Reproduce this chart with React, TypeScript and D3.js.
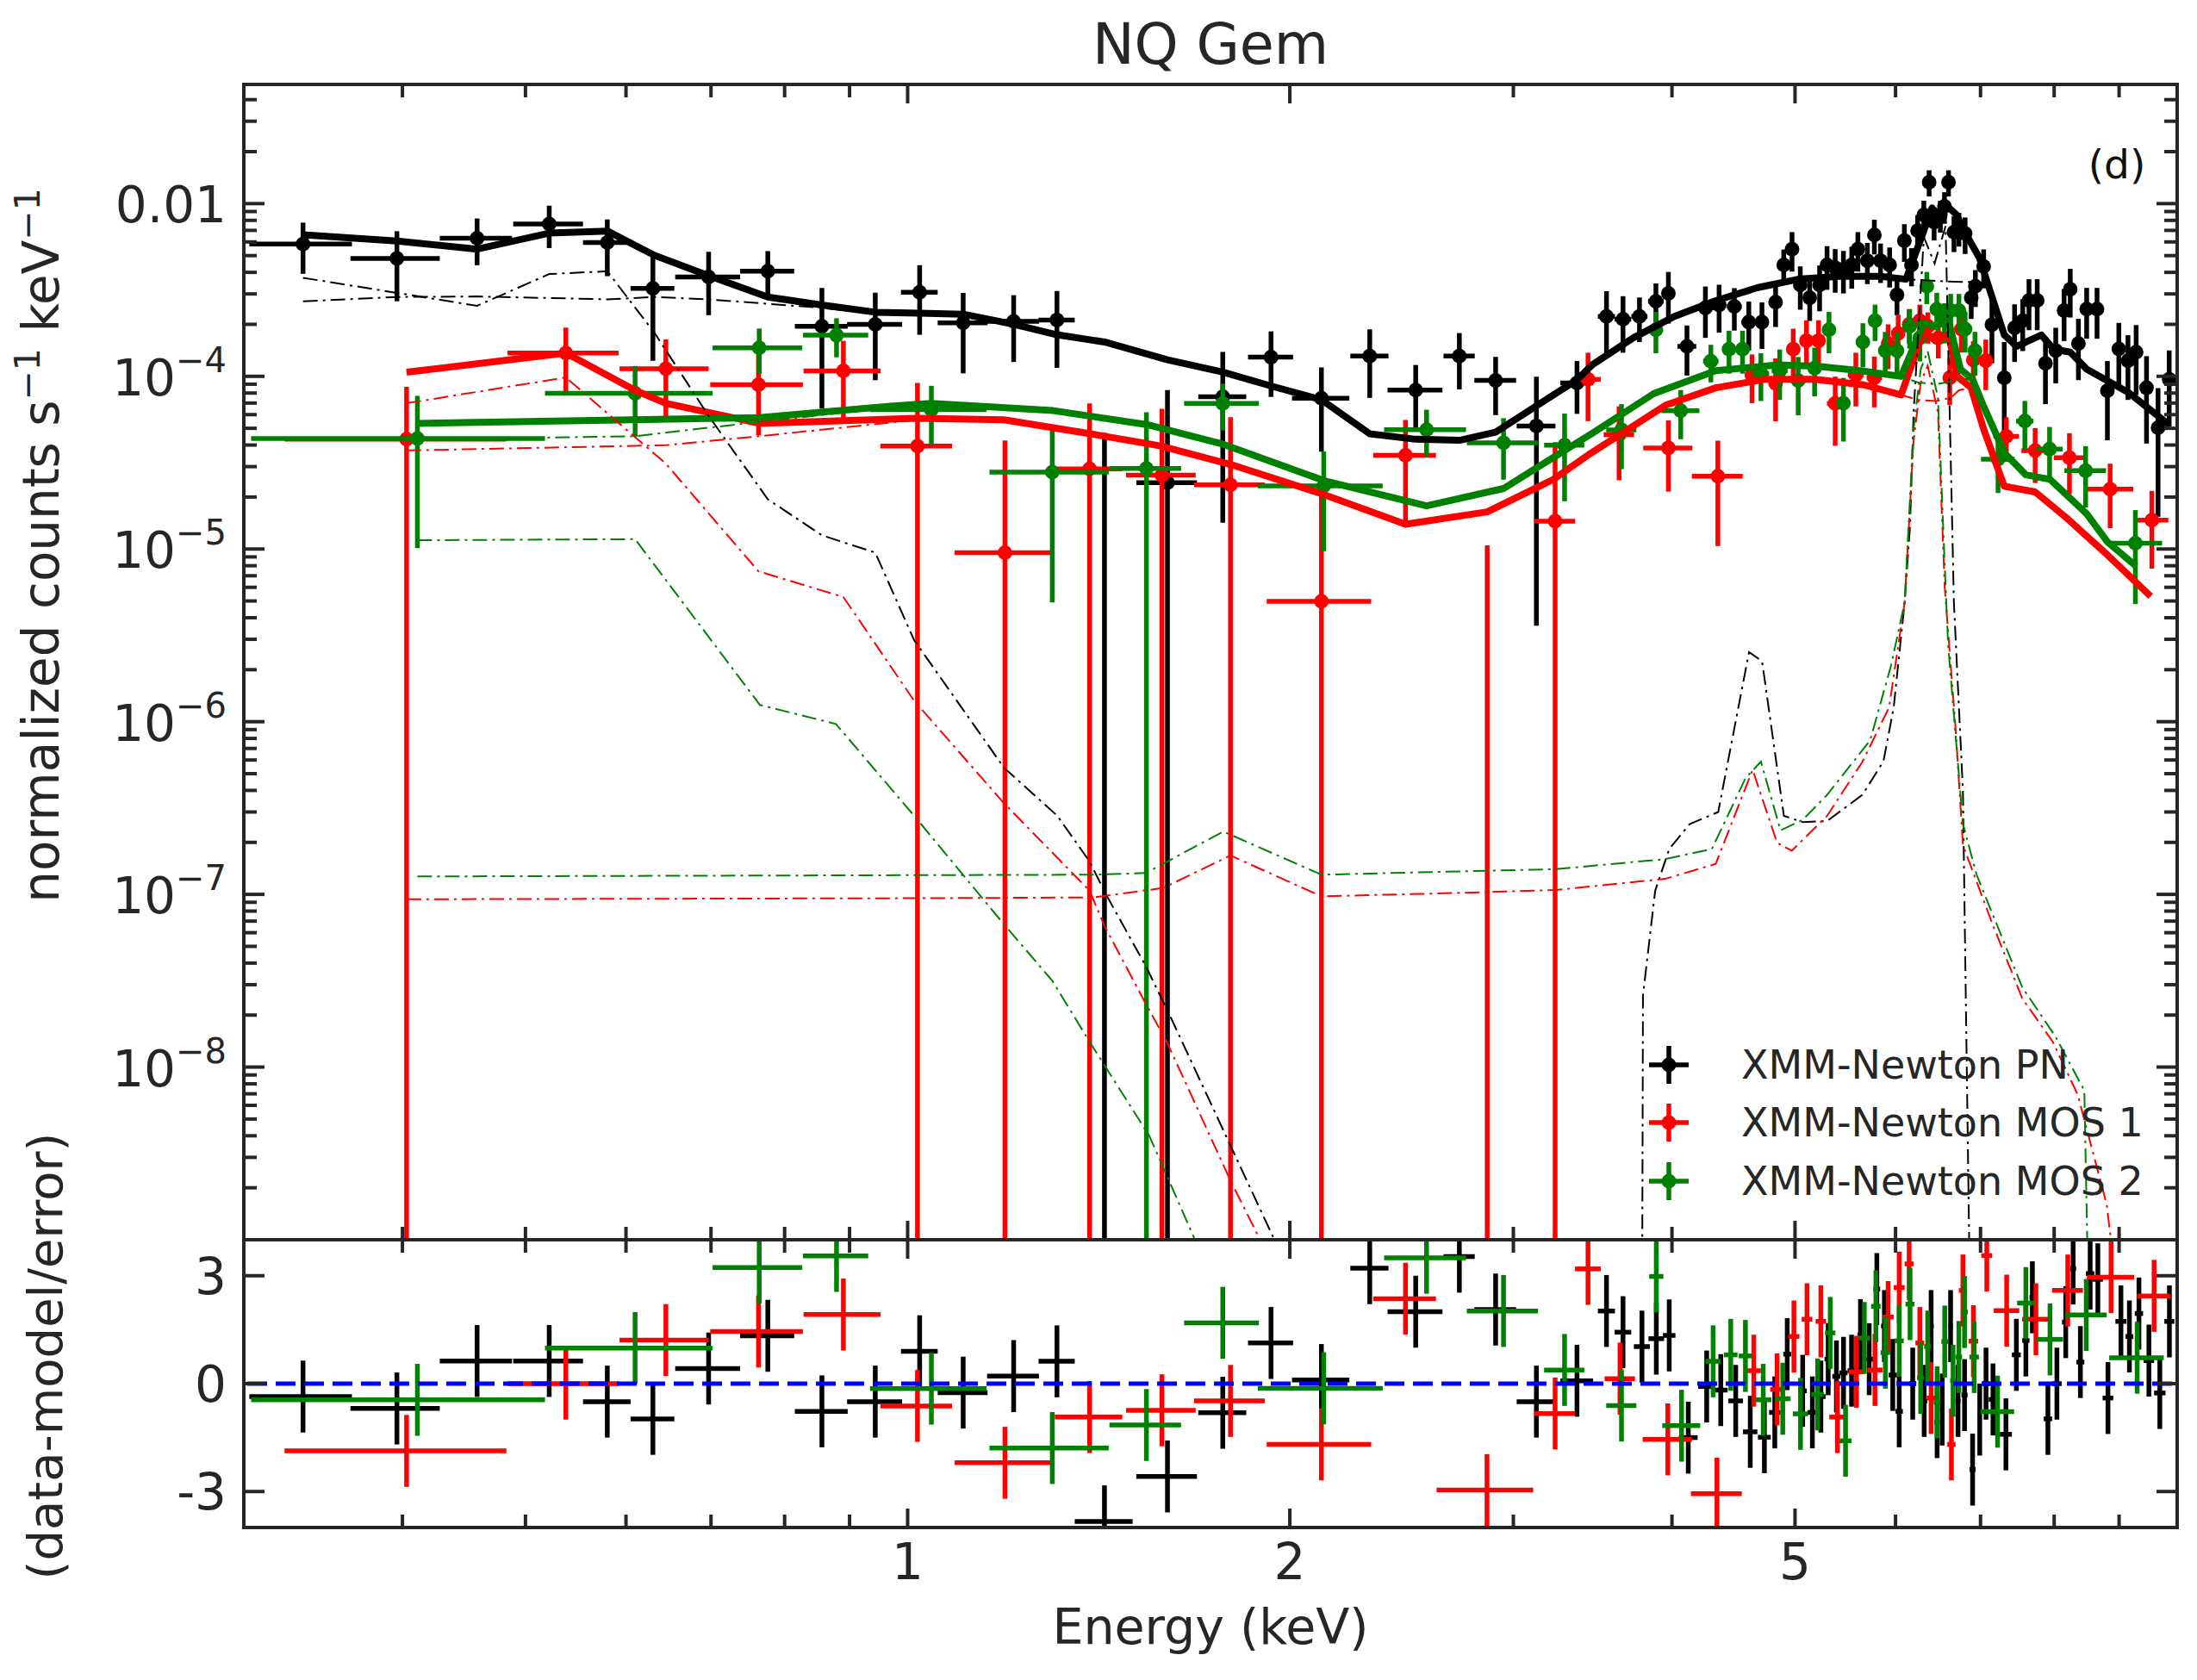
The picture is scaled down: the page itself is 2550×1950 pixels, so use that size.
import { useEffect, useRef } from 'react';
import * as d3 from 'd3';

// spectrum points: [energy keV, half bin width keV, normalized counts, 1-sigma]
const pnData = [
  [0.334, 0.031, 5.84e-4, 1.92e-4], [0.396, 0.032, 4.82e-4, 2.1e-4], [0.458, 0.030, 6.3e-4, 1.9e-4],
  [0.522, 0.033, 7.63e-4, 2.1e-4], [0.580, 0.025, 5.95e-4, 2.15e-4], [0.630, 0.025, 3.23e-4, 2.0e-4],
  [0.697, 0.041, 3.76e-4, 1.5e-4], [0.776, 0.038, 4.06e-4, 1.25e-4], [0.856, 0.041, 1.95e-4, 1.3e-4],
  [0.943, 0.047, 2.0e-4, 1.05e-4], [1.022, 0.034, 3.07e-4, 1.33e-4], [1.106, 0.050, 2.04e-4, 1.0e-4],
  [1.212, 0.057, 2.08e-4, 8.7e-5], [1.311, 0.043, 2.12e-4, 1.0e-4], [1.429, 0.075, -1.2e-5, 5.9e-5],
  [1.602, 0.088, 2.42e-5, 5.9e-5], [1.771, 0.077, 7.62e-5, 6.2e-5], [1.933, 0.079, 1.29e-4, 5.3e-5],
  [2.118, 0.110, 7.46e-5, 3.8e-5], [2.312, 0.080, 1.31e-4, 5.6e-5], [2.513, 0.125, 8.33e-5, 3.3e-5],
  [2.720, 0.077, 1.31e-4, 4.7e-5], [2.905, 0.110, 9.46e-5, 3.5e-5], [3.128, 0.110, 5.16e-5, 4.8e-5],
  [3.367, 0.100, 9.16e-5, 3.1e-5], [3.552, 0.055, 2.22e-4, 8.9e-5], [3.660, 0.055, 2.14e-4, 7.7e-5],
  [3.771, 0.055, 2.22e-4, 6.4e-5], [3.885, 0.055, 2.72e-4, 7.3e-5], [3.974, 0.045, 3.02e-4, 1.0e-4],
  [4.110, 0.070, 1.49e-4, 4.8e-5], [4.250, 0.065, 2.49e-4, 8.2e-5], [4.357, 0.055, 2.59e-4, 8.0e-5],
  [4.479, 0.060, 2.54e-4, 7.0e-5], [4.598, 0.060, 2.06e-4, 6.5e-5], [4.709, 0.055, 2.06e-4, 6.2e-5],
  [4.827, 0.050, 2.69e-4, 7.6e-5], [4.899, 0.035, 4.42e-4, 1.0e-4], [4.973, 0.038, 5.44e-4, 1.4e-4],
  [5.048, 0.038, 3.38e-4, 9.5e-5], [5.135, 0.045, 2.85e-4, 7.6e-5], [5.228, 0.045, 3.38e-4, 1.0e-4],
  [5.299, 0.035, 4.42e-4, 1.25e-4], [5.378, 0.040, 4.25e-4, 1.2e-4], [5.459, 0.040, 4.17e-4, 1.15e-4],
  [5.542, 0.040, 4.42e-4, 1.2e-4], [5.604, 0.030, 5.44e-4, 1.4e-4], [5.701, 0.045, 4.67e-4, 1.25e-4],
  [5.774, 0.035, 6.58e-4, 1.5e-4], [5.839, 0.035, 4.67e-4, 1.2e-4], [5.936, 0.045, 4.42e-4, 1.15e-4],
  [6.016, 0.040, 2.96e-4, 7.0e-5], [6.097, 0.040, 6.1e-4, 1.5e-4], [6.176, 0.038, 4.42e-4, 1.1e-4],
  [6.245, 0.035, 6.97e-4, 1.6e-4], [6.316, 0.035, 8.59e-4, 1.8e-4], [6.377, 0.030, 1.33e-3, 2.3e-4],
  [6.435, 0.030, 7.82e-4, 1.7e-4], [6.508, 0.035, 8.59e-4, 1.8e-4], [6.557, 0.025, 9.64e-4, 2.0e-4],
  [6.605, 0.025, 1.33e-3, 2.3e-4], [6.671, 0.030, 6.84e-4, 1.6e-4], [6.731, 0.030, 7.24e-4, 1.6e-4],
  [6.807, 0.038, 6.71e-4, 1.6e-4], [6.883, 0.038, 2.85e-4, 7.0e-5], [6.935, 0.025, 3.32e-4, 8.0e-5],
  [7.040, 0.050, 4.33e-4, 1.1e-4], [7.146, 0.055, 1.99e-4, 8.0e-5], [7.308, 0.080, 9.81e-5, 6.0e-5],
  [7.446, 0.060, 1.91e-4, 7.0e-5], [7.557, 0.050, 2.1e-4, 7.0e-5], [7.643, 0.040, 2.75e-4, 9.0e-5],
  [7.758, 0.060, 2.75e-4, 9.0e-5], [7.875, 0.060, 1.19e-4, 5.0e-5], [8.023, 0.070, 1.41e-4, 5.0e-5],
  [8.145, 0.055, 2.4e-4, 8.0e-5], [8.237, 0.045, 3.19e-4, 1.0e-4], [8.360, 0.060, 1.55e-4, 6.0e-5],
  [8.486, 0.065, 2.45e-4, 8.0e-5], [8.647, 0.080, 2.45e-4, 8.0e-5], [8.811, 0.085, 8.26e-5, 4.0e-5],
  [8.996, 0.090, 1.44e-4, 6.0e-5], [9.146, 0.065, 1.23e-4, 5.0e-5], [9.283, 0.070, 1.38e-4, 6.0e-5],
  [9.459, 0.090, 8.58e-5, 4.5e-5], [9.659, 0.100, 5.04e-5, 3.5e-5], [9.856, 0.090, 9.62e-5, 4.5e-5],
];

const mos1Data = [
  [0.403, 0.080, 4.32e-5, 4.36e-5], [0.538, 0.054, 1.364e-4, 5.5e-5], [0.645, 0.052, 1.105e-4, 5.3e-5],
  [0.763, 0.064, 8.95e-5, 4.4e-5], [0.890, 0.062, 1.075e-4, 5.3e-5], [1.018, 0.066, 3.95e-5, 5.2e-5],
  [1.193, 0.104, 9.52e-6, 3.3e-5], [1.391, 0.085, 2.91e-5, 4.05e-5], [1.586, 0.100, 2.68e-5, 3.8e-5],
  [1.796, 0.115, 2.35e-5, 3.44e-5], [2.118, 0.200, 4.98e-6, 1.82e-5], [2.467, 0.140, 3.49e-5, 2.1e-5],
  [2.861, 0.250, -1.5e-5, 2.55e-5], [3.236, 0.120, 1.45e-5, 2.7e-5], [3.435, 0.080, 9.6e-5, 4.1e-5],
  [3.634, 0.100, 4.6e-5, 2.1e-5], [3.974, 0.177, 3.85e-5, 1.7e-5], [4.347, 0.200, 2.64e-5, 1.6e-5],
  [4.625, 0.060, 1.019e-4, 3.2e-5], [4.827, 0.060, 9.09e-5, 3.6e-5], [4.984, 0.050, 1.436e-4, 4.5e-5],
  [5.105, 0.050, 1.609e-4, 5.0e-5], [5.218, 0.050, 1.609e-4, 5.0e-5], [5.378, 0.080, 6.96e-5, 3.0e-5],
  [5.583, 0.080, 1.019e-4, 3.5e-5], [5.774, 0.080, 9.81e-5, 3.2e-5], [5.920, 0.060, 1.55e-4, 4.5e-5],
  [6.029, 0.060, 1.77e-4, 5.0e-5], [6.150, 0.050, 2.0e-4, 4.5e-5], [6.270, 0.050, 2.1e-4, 5.0e-5],
  [6.363, 0.050, 1.947e-4, 4.0e-5], [6.484, 0.050, 1.67e-4, 4.0e-5], [6.620, 0.050, 9.81e-5, 3.0e-5],
  [6.760, 0.050, 1.874e-4, 5.0e-5], [6.909, 0.060, 1.243e-4, 3.5e-5], [7.067, 0.070, 1.232e-4, 4.0e-5],
  [7.335, 0.170, 4.49e-5, 1.3e-5], [7.729, 0.190, 3.71e-5, 1.3e-5], [8.225, 0.230, 3.38e-5, 1.3e-5],
  [8.855, 0.380, 2.22e-5, 9.0e-6], [9.551, 0.290, 1.47e-5, 7.0e-6],
];

const mos2Data = [
  [0.411, 0.107, 4.36e-5, 3.35e-5], [0.610, 0.092, 7.97e-5, 3.5e-5], [0.764, 0.062, 1.461e-4, 4.3e-5],
  [0.879, 0.052, 1.729e-4, 4.4e-5], [1.044, 0.110, 6.41e-5, 2.4e-5], [1.300, 0.140, 2.79e-5, 2.3e-5],
  [1.542, 0.100, 2.93e-5, 3.27e-5], [1.771, 0.120, 6.96e-5, 2.1e-5], [2.127, 0.240, 2.32e-5, 1.35e-5],
  [2.563, 0.190, 4.91e-5, 1.5e-5], [2.947, 0.190, 4.12e-5, 1.6e-5], [3.292, 0.120, 3.99e-5, 2.1e-5],
  [3.650, 0.100, 4.9e-5, 2.0e-5], [3.885, 0.050, 1.86e-4, 5.0e-5], [4.064, 0.140, 6.32e-5, 2.0e-5],
  [4.292, 0.060, 1.223e-4, 3.0e-5], [4.436, 0.055, 1.436e-4, 4.0e-5], [4.546, 0.055, 1.436e-4, 4.0e-5],
  [4.700, 0.070, 1.039e-4, 3.2e-5], [4.863, 0.070, 1.079e-4, 3.5e-5], [5.029, 0.070, 9.44e-5, 3.5e-5],
  [5.181, 0.060, 1.116e-4, 3.5e-5], [5.318, 0.050, 1.86e-4, 5.0e-5], [5.459, 0.060, 6.99e-5, 2.8e-5],
  [5.655, 0.060, 1.579e-4, 4.5e-5], [5.781, 0.050, 2.1e-4, 5.0e-5], [5.889, 0.050, 1.408e-4, 4.0e-5],
  [6.016, 0.050, 1.408e-4, 4.0e-5], [6.156, 0.050, 1.947e-4, 5.0e-5], [6.270, 0.040, 1.67e-4, 4.5e-5],
  [6.350, 0.040, 3.32e-4, 7.0e-5], [6.466, 0.040, 2.446e-4, 6.0e-5], [6.557, 0.040, 2.1e-4, 5.5e-5],
  [6.631, 0.035, 2.4e-4, 6.0e-5], [6.731, 0.040, 2.4e-4, 6.0e-5], [6.807, 0.040, 1.874e-4, 5.0e-5],
  [6.930, 0.060, 1.408e-4, 4.0e-5], [7.226, 0.220, 3.31e-5, 1.2e-5], [7.586, 0.120, 5.5e-5, 1.7e-5],
  [7.934, 0.190, 3.79e-5, 1.3e-5], [8.470, 0.320, 2.84e-5, 1.1e-5], [9.270, 0.460, 1.08e-5, 6.0e-6],
];

// residuals: [energy keV, half bin width keV, (data-model)/error]
const pnResid = [
  [0.334, 0.031, -0.36], [0.396, 0.032, -0.69], [0.458, 0.030, 0.63], [0.522, 0.033, 0.63],
  [0.580, 0.025, -0.50], [0.630, 0.025, -0.98], [0.697, 0.041, 0.42], [0.776, 0.038, 1.33],
  [0.856, 0.041, -0.77], [0.943, 0.047, -0.50], [1.022, 0.034, 0.90], [1.106, 0.050, -0.25],
  [1.212, 0.057, 0.21], [1.311, 0.043, 0.62], [1.429, 0.075, -3.83], [1.602, 0.088, -2.58],
  [1.771, 0.077, -0.81], [1.933, 0.079, 1.13], [2.118, 0.110, 0.10], [2.312, 0.080, 3.21],
  [2.513, 0.125, 2.00], [2.720, 0.077, 3.53], [2.905, 0.110, 2.06], [3.128, 0.110, -0.50],
  [3.367, 0.100, 0.08], [3.552, 0.055, 2.02], [3.660, 0.055, 1.43], [3.788, 0.055, 1.03],
  [3.888, 0.055, 1.25], [3.980, 0.045, 1.34], [4.120, 0.070, -1.50], [4.260, 0.065, -0.08],
  [4.370, 0.055, -0.18], [4.490, 0.060, -0.48], [4.610, 0.060, -1.34], [4.730, 0.055, -1.49],
  [4.820, 0.050, -0.80], [4.930, 0.035, 0.82], [5.070, 0.038, -0.20], [5.160, 0.045, -0.80],
  [5.240, 0.045, -0.36], [5.310, 0.035, 0.68], [5.390, 0.040, 0.20], [5.460, 0.040, 0.30],
  [5.540, 0.040, 0.36], [5.630, 0.030, 1.35], [5.720, 0.045, 0.68], [5.800, 0.035, 2.63],
  [5.880, 0.035, 1.60], [5.970, 0.045, 0.24], [6.040, 0.040, -0.77], [6.190, 0.040, 0.00],
  [6.320, 0.035, -0.48], [6.400, 0.030, 1.60], [6.470, 0.030, -1.07], [6.530, 0.025, -0.72],
  [6.630, 0.025, 1.60], [6.720, 0.030, -0.48], [6.800, 0.038, -0.32], [6.900, 0.038, -2.39],
  [6.990, 0.025, -1.00], [7.070, 0.050, 0.00], [7.160, 0.055, -0.44], [7.330, 0.080, -1.41],
  [7.470, 0.060, 0.80], [7.600, 0.050, 1.20], [7.690, 0.040, 2.40], [7.910, 0.060, -0.98],
  [8.040, 0.070, 0.00], [8.170, 0.055, 1.71], [8.280, 0.045, 3.20], [8.390, 0.060, 0.60],
  [8.540, 0.065, 3.06], [8.660, 0.080, 2.90], [8.820, 0.085, -0.40], [9.030, 0.090, 1.73],
  [9.170, 0.065, 1.31], [9.330, 0.070, 1.95], [9.500, 0.090, 0.64], [9.690, 0.100, -0.26],
  [9.860, 0.090, 1.73],
];

const mos1Resid = [
  [0.403, 0.080, -1.87], [0.538, 0.054, 0.00], [0.645, 0.052, 1.21], [0.763, 0.064, 1.45],
  [0.890, 0.062, 1.92], [1.018, 0.066, -0.62], [1.193, 0.104, -2.20], [1.391, 0.085, -0.93],
  [1.586, 0.100, -0.74], [1.796, 0.115, -0.48], [2.118, 0.200, -1.69], [2.467, 0.140, 2.36],
  [2.860, 0.250, -2.96], [3.236, 0.120, -0.83], [3.435, 0.080, 3.19], [3.640, 0.100, 0.14],
  [3.970, 0.177, -1.55], [4.340, 0.200, -3.06], [4.640, 0.060, 0.36], [4.840, 0.060, -0.16],
  [4.990, 0.050, 1.31], [5.110, 0.050, 1.79], [5.240, 0.050, 1.73], [5.400, 0.080, -0.93],
  [5.590, 0.080, 0.33], [5.780, 0.080, 0.38], [5.920, 0.060, 1.85], [6.040, 0.060, 2.67],
  [6.150, 0.050, 3.33], [6.270, 0.050, 1.13], [6.400, 0.050, -0.40], [6.640, 0.050, -1.69],
  [6.780, 0.050, 2.59], [6.910, 0.060, 1.18], [7.080, 0.070, 3.56], [7.340, 0.170, 2.03],
  [7.740, 0.190, 1.79], [8.200, 0.230, 2.59], [8.870, 0.380, 2.96], [9.590, 0.290, 2.44],
];

const mos2Resid = [
  [0.411, 0.107, -0.45], [0.610, 0.092, 0.99], [0.764, 0.062, 3.23], [0.879, 0.052, 3.55],
  [1.044, 0.110, -0.14], [1.300, 0.140, -1.79], [1.542, 0.100, -1.15], [1.771, 0.120, 1.69],
  [2.127, 0.240, -0.13], [2.563, 0.190, 3.50], [2.947, 0.190, 2.02], [3.292, 0.120, 0.38],
  [3.650, 0.100, -0.61], [3.888, 0.050, 2.98], [4.070, 0.140, -1.17], [4.310, 0.060, 0.62],
  [4.450, 0.055, 0.80], [4.570, 0.055, 0.77], [4.720, 0.070, -0.45], [4.890, 0.070, -0.42],
  [5.050, 0.070, -0.84], [5.210, 0.060, -0.30], [5.330, 0.050, 1.41], [5.480, 0.060, -1.59],
  [5.670, 0.060, 1.27], [5.790, 0.050, 2.15], [5.890, 0.050, 0.86], [6.040, 0.050, 1.19],
  [6.160, 0.050, 2.21], [6.280, 0.040, 0.16], [6.360, 0.040, 1.03], [6.470, 0.040, -0.52],
  [6.560, 0.040, 1.17], [6.660, 0.035, 0.08], [6.730, 0.040, 0.74], [6.800, 0.040, 1.99],
  [6.920, 0.060, 0.74], [7.220, 0.220, -0.78], [7.600, 0.120, 2.24], [7.940, 0.190, 1.23],
  [8.480, 0.320, 1.91], [9.300, 0.460, 0.72],
];

// total model curves: [energy keV, normalized counts]
const pnModel = [
  [0.334, 6.6e-4], [0.396, 6.07e-4], [0.458, 5.45e-4], [0.522, 6.75e-4], [0.580, 6.94e-4],
  [0.632, 5.01e-4], [0.697, 3.83e-4], [0.776, 2.88e-4], [0.856, 2.59e-4], [0.943, 2.35e-4],
  [1.022, 2.32e-4], [1.106, 2.29e-4], [1.212, 2.0e-4], [1.311, 1.74e-4], [1.429, 1.58e-4],
  [1.602, 1.245e-4], [1.771, 1.058e-4], [1.933, 8.79e-5], [2.118, 7.31e-5], [2.312, 4.65e-5],
  [2.513, 4.32e-5], [2.720, 4.26e-5], [2.905, 4.75e-5], [3.128, 6.74e-5], [3.367, 9.54e-5],
  [3.460, 1.164e-4], [3.729, 1.67e-4], [4.018, 2.224e-4], [4.331, 2.741e-4], [4.667, 3.256e-4],
  [5.029, 3.649e-4], [5.418, 3.79e-4], [5.839, 3.79e-4], [6.115, 3.649e-4], [6.316, 6.97e-4],
  [6.411, 9.45e-4], [6.484, 8.45e-4], [6.557, 1.0e-3], [6.706, 8.59e-4], [6.782, 7.11e-4],
  [6.986, 4.86e-4], [7.092, 3.445e-4], [7.308, 1.735e-4], [7.474, 1.491e-4], [7.643, 1.609e-4],
  [7.817, 1.735e-4], [7.993, 1.436e-4], [8.237, 1.38e-4], [8.486, 1.099e-4], [9.146, 8.1e-5],
  [9.856, 5.23e-5],
];

const mos1Model = [
  [0.403, 1.056e-4], [0.538, 1.364e-4], [0.610, 8.3e-5], [0.645, 6.98e-5], [0.764, 5.34e-5],
  [1.018, 5.72e-5], [1.191, 5.6e-5], [1.393, 4.65e-5], [1.582, 3.95e-5], [1.796, 3.09e-5],
  [2.118, 2.09e-5], [2.467, 1.39e-5], [2.861, 1.64e-5], [3.223, 2.52e-5], [3.435, 3.5e-5],
  [3.959, 6.83e-5], [4.331, 8.58e-5], [4.737, 9.62e-5], [5.181, 9.62e-5], [5.667, 8.92e-5],
  [6.061, 7.8e-5], [6.316, 1.85e-4], [6.450, 1.6e-4], [6.605, 1.75e-4], [6.710, 1.0e-4],
  [6.880, 8.6e-5], [7.040, 4.94e-5], [7.308, 2.31e-5], [7.729, 2.14e-5], [8.176, 1.52e-5],
  [8.811, 9.25e-6], [9.530, 5.32e-6],
];

const mos2Model = [
  [0.411, 5.34e-5], [0.764, 5.76e-5], [0.969, 6.71e-5], [1.044, 6.96e-5], [1.302, 6.33e-5],
  [1.542, 5.26e-5], [1.773, 4.04e-5], [2.127, 2.49e-5], [2.563, 1.78e-5], [2.947, 2.24e-5],
  [3.460, 4.67e-5], [3.871, 7.95e-5], [4.331, 1.079e-4], [4.845, 1.164e-4], [5.218, 1.142e-4],
  [5.626, 1.079e-4], [6.061, 9.99e-5], [6.316, 2.04e-4], [6.450, 1.95e-4], [6.605, 2.1e-4],
  [6.750, 1.1e-4], [6.900, 9.6e-5], [7.040, 6.7e-5], [7.310, 3.6e-5], [7.600, 2.69e-5],
  [7.940, 2.53e-5], [8.486, 1.6e-5], [8.811, 1.1e-5], [9.283, 7.94e-6],
];

// additive model components (thin dash-dot)
const pnSoft = [
  [0.334, 3.72e-4], [0.458, 2.56e-4], [0.522, 3.91e-4], [0.580, 4.06e-4], [0.632, 1.78e-4],
  [0.697, 5.9e-5], [0.776, 1.94e-5], [0.856, 1.2e-5], [0.943, 9.53e-6], [1.012, 2.96e-6],
  [1.191, 5.41e-7], [1.312, 2.85e-7], [1.391, 1.55e-7], [1.433, 1.0e-7], [1.540, 3.85e-8],
  [1.610, 1.97e-8], [1.790, 3.7e-9], [1.940, 1.04e-9], [1.990, 6e-10],
];
const pnCont = [
  [0.334, 2.72e-4], [0.396, 2.88e-4], [0.458, 2.9e-4], [0.522, 2.84e-4], [0.580, 2.79e-4],
  [0.632, 2.88e-4], [0.697, 2.79e-4], [0.776, 2.63e-4], [0.856, 2.49e-4], [0.943, 2.3e-4],
  [1.022, 2.3e-4], [1.106, 2.29e-4], [1.212, 2.0e-4], [1.311, 1.74e-4], [1.429, 1.58e-4],
  [1.602, 1.245e-4], [1.771, 1.058e-4], [1.933, 8.79e-5], [2.118, 7.31e-5], [2.312, 4.65e-5],
  [2.513, 4.32e-5], [2.720, 4.26e-5], [2.905, 4.75e-5], [3.128, 6.74e-5], [3.367, 9.54e-5],
  [3.460, 1.164e-4], [3.729, 1.67e-4], [4.018, 2.224e-4], [4.331, 2.741e-4], [4.667, 3.256e-4],
  [5.029, 3.649e-4], [5.418, 3.79e-4], [5.839, 3.79e-4], [6.115, 3.649e-4], [6.557, 3.55e-4],
  [6.986, 3.5e-4], [7.092, 3.445e-4], [7.308, 1.735e-4], [7.474, 1.491e-4], [7.643, 1.609e-4],
  [7.817, 1.735e-4], [7.993, 1.436e-4], [8.237, 1.38e-4], [8.486, 1.099e-4], [9.146, 8.1e-5],
  [9.856, 5.23e-5],
];
const pnLine = [
  [3.790, 8e-10], [3.795, 2.6e-8], [3.880, 1.05e-7], [3.980, 1.83e-7], [4.130, 2.55e-7],
  [4.350, 3.0e-7], [4.600, 2.53e-6], [4.710, 2.24e-6], [4.900, 2.85e-7], [5.070, 2.62e-7],
  [5.300, 2.66e-7], [5.650, 3.77e-7], [5.870, 5.9e-7], [5.980, 1.21e-6], [6.100, 4.9e-6],
  [6.160, 1.37e-5], [6.200, 6.2e-5], [6.316, 6.4e-4], [6.440, 4.5e-4], [6.570, 7.4e-4],
  [6.670, 4.9e-6], [6.780, 4.0e-7], [6.860, 8e-10],
];

const mos1Soft = [
  [0.403, 6.98e-5], [0.538, 9.85e-5], [0.645, 3.12e-5], [0.763, 7.43e-6], [0.890, 5.27e-6],
  [1.012, 1.32e-6], [1.191, 3.37e-7], [1.391, 1.05e-7], [1.430, 6.5e-8], [1.540, 2.33e-8],
  [1.600, 1.4e-8], [1.796, 2.2e-9], [1.890, 1.04e-9], [1.950, 6e-10],
];
const mos1Cont = [
  [0.403, 3.72e-5], [0.645, 3.99e-5], [0.764, 4.5e-5], [1.018, 5.6e-5], [1.191, 5.6e-5],
  [1.393, 4.65e-5], [1.582, 3.95e-5], [1.796, 3.09e-5], [2.118, 2.09e-5], [2.467, 1.39e-5],
  [2.861, 1.64e-5], [3.223, 2.52e-5], [3.435, 3.5e-5], [3.959, 6.83e-5], [4.331, 8.58e-5],
  [4.737, 9.62e-5], [5.181, 9.62e-5], [5.667, 8.92e-5], [6.061, 7.8e-5], [6.250, 7.3e-5],
  [6.460, 7.2e-5], [6.631, 7.5e-5], [6.731, 8.3e-5], [6.880, 8.6e-5], [7.040, 4.94e-5],
  [7.308, 2.31e-5], [7.729, 2.14e-5], [8.176, 1.52e-5], [8.811, 9.25e-6], [9.530, 5.32e-6],
];
const mos1Line = [
  [0.403, 9.37e-8], [1.012, 9.5e-8], [1.400, 9.6e-8], [1.590, 1.09e-7], [1.796, 1.68e-7],
  [2.118, 9.74e-8], [2.860, 1.03e-7], [3.240, 1.06e-7], [3.950, 1.23e-7], [4.330, 1.5e-7],
  [4.630, 5.27e-7], [4.840, 1.99e-7], [4.970, 1.79e-7], [5.300, 2.85e-7], [5.650, 5.86e-7],
  [5.930, 1.21e-6], [6.100, 4.9e-6], [6.200, 4.25e-5], [6.280, 9.2e-5], [6.360, 1.15e-4],
  [6.480, 6.2e-5], [6.560, 6e-6], [6.690, 9.2e-7], [6.780, 1.93e-7], [7.150, 6.8e-8],
  [7.550, 2.5e-8], [7.980, 1.4e-8], [8.350, 6.9e-9], [8.800, 1.6e-9], [8.900, 8e-10],
];

const mos2Soft = [
  [0.411, 1.124e-5], [0.610, 1.14e-5], [0.765, 1.25e-6], [0.878, 9.7e-7], [1.012, 2.85e-7],
  [1.191, 6.7e-8], [1.300, 3.16e-8], [1.391, 1.4e-8], [1.550, 4.0e-9], [1.680, 1.04e-9],
  [1.720, 6e-10],
];
const mos2Cont = [
  [0.411, 4.3e-5], [0.610, 4.5e-5], [0.764, 5.45e-5], [0.969, 6.6e-5], [1.044, 6.9e-5],
  [1.302, 6.33e-5], [1.542, 5.26e-5], [1.773, 4.04e-5], [2.127, 2.49e-5], [2.563, 1.78e-5],
  [2.947, 2.24e-5], [3.460, 4.67e-5], [3.871, 7.95e-5], [4.331, 1.079e-4], [4.845, 1.164e-4],
  [5.218, 1.142e-4], [5.626, 1.079e-4], [6.061, 9.99e-5], [6.250, 9.2e-5], [6.460, 9.0e-5],
  [6.630, 9.3e-5], [6.780, 9.8e-5], [6.900, 9.4e-5], [7.040, 6.7e-5], [7.310, 3.6e-5],
  [7.600, 2.69e-5], [7.940, 2.53e-5], [8.486, 1.6e-5], [8.811, 1.1e-5], [9.283, 7.94e-6],
];
const mos2Line = [
  [0.411, 1.27e-7], [1.400, 1.3e-7], [1.540, 1.33e-7], [1.773, 2.31e-7], [2.118, 1.3e-7],
  [2.860, 1.37e-7], [3.240, 1.4e-7], [3.950, 1.6e-7], [4.300, 1.83e-7], [4.570, 4.7e-7],
  [4.700, 5.87e-7], [4.870, 2.35e-7], [5.070, 2.7e-7], [5.300, 3.77e-7], [5.730, 7.8e-7],
  [5.950, 2.1e-6], [6.100, 4.9e-6], [6.200, 5.0e-5], [6.280, 1.1e-4], [6.360, 1.4e-4],
  [6.480, 7.5e-5], [6.560, 8e-6], [6.600, 2.8e-6], [6.780, 2.56e-7], [6.950, 1.3e-7],
  [7.550, 2.9e-8], [8.020, 1.5e-8], [8.450, 7.3e-9], [8.500, 8e-10],
];

const yMajorTicks = [1e-3, 1e-4, 1e-5, 1e-6, 1e-7, 1e-8];
const yMajorLabels = [['0.01', ''], ['10', '−4'], ['10', '−5'], ['10', '−6'], ['10', '−7'], ['10', '−8']];
const xMajorTicks = [1, 2, 5];
const xMajorLabels = ['1', '2', '5'];
const xMinorTicks = [0.4, 0.5, 0.6, 0.7, 0.8, 0.9, 3, 4, 6, 7, 8, 9];
const residTicks = [3, 0, -3];
const residLabels = ['3', '0', '-3'];
const legendLabels = ['XMM-Newton PN', 'XMM-Newton MOS 1', 'XMM-Newton MOS 2'];
const seriesColors = ['#000000', '#ff0000', '#008000'];

const W = 2550;
const H = 1950;
const L = 283, R = 2527, T = 98, MB = 1439, RB = 1773;
const AX = '#262626';
const FONT = 'DejaVu Sans';

export default function App() {
  const svgRef = useRef<SVGSVGElement>(null);

  useEffect(() => {
    if (!svgRef.current) return;
    const svg = d3.select(svgRef.current);
    svg.selectAll('*').remove();
    svg.attr('width', W).attr('height', H);

    svg.append('rect').attr('width', W).attr('height', H).attr('fill', '#ffffff');

    const defs = svg.append('defs');
    defs.append('clipPath').attr('id', 'clip-main')
      .append('rect').attr('x', L).attr('y', T).attr('width', R - L).attr('height', MB - T);
    defs.append('clipPath').attr('id', 'clip-res')
      .append('rect').attr('x', L).attr('y', MB).attr('width', R - L).attr('height', RB - MB);

    const x = d3.scaleLog().domain([0.3, 10]).range([L, R]);
    const y = d3.scaleLog().domain([1e-9, 4.9e-3]).range([MB, T]);
    const yr = d3.scaleLinear().domain([-4, 4]).range([RB, MB]);
    const yv = (v: number) => (v > 0 ? y(v) : MB + 60);

    const main = svg.append('g').attr('clip-path', 'url(#clip-main)');
    const res = svg.append('g').attr('clip-path', 'url(#clip-res)');

    // data with error bars
    const spectra = [pnData, mos1Data, mos2Data];
    spectra.forEach((data, i) => {
      const g = main.append('g').attr('stroke', seriesColors[i]).attr('stroke-width', 5.5);
      g.selectAll('line.v').data(data).join('line').attr('class', 'v')
        .attr('x1', d => x(d[0])).attr('x2', d => x(d[0]))
        .attr('y1', d => yv(d[2] - d[3])).attr('y2', d => yv(d[2] + d[3]));
      const pos = data.filter(d => d[2] > 0);
      g.selectAll('line.h').data(pos).join('line').attr('class', 'h')
        .attr('x1', d => x(d[0] - d[1])).attr('x2', d => x(d[0] + d[1]))
        .attr('y1', d => y(d[2])).attr('y2', d => y(d[2]));
      g.selectAll('circle').data(pos).join('circle')
        .attr('cx', d => x(d[0])).attr('cy', d => y(d[2])).attr('r', 8.5)
        .attr('fill', seriesColors[i]).attr('stroke', 'none');
    });

    const line = d3.line<number[]>().x(d => x(d[0])).y(d => yv(d[1]));

    // total models
    [pnModel, mos1Model, mos2Model].forEach((m, i) => {
      main.append('path').datum(m).attr('d', line)
        .attr('fill', 'none').attr('stroke', seriesColors[i]).attr('stroke-width', 8)
        .attr('stroke-linejoin', 'round');
    });

    // components
    const comps = [
      [pnSoft, pnCont, pnLine],
      [mos1Soft, mos1Cont, mos1Line],
      [mos2Soft, mos2Cont, mos2Line],
    ];
    comps.forEach((set, i) => {
      set.forEach(c => {
        main.append('path').datum(c).attr('d', line)
          .attr('fill', 'none').attr('stroke', seriesColors[i]).attr('stroke-width', 2)
          .attr('stroke-dasharray', '17 6 3 6');
      });
    });

    // residuals
    [pnResid, mos1Resid, mos2Resid].forEach((data, i) => {
      const g = res.append('g').attr('stroke', seriesColors[i]).attr('stroke-width', 5.5);
      g.selectAll('line.v').data(data).join('line').attr('class', 'v')
        .attr('x1', d => x(d[0])).attr('x2', d => x(d[0]))
        .attr('y1', d => yr(d[2] - 1)).attr('y2', d => yr(d[2] + 1));
      g.selectAll('line.h').data(data).join('line').attr('class', 'h')
        .attr('x1', d => x(d[0] - d[1])).attr('x2', d => x(d[0] + d[1]))
        .attr('y1', d => yr(d[2])).attr('y2', d => yr(d[2]));
    });
    res.append('line')
      .attr('x1', L + 4).attr('x2', R).attr('y1', yr(0)).attr('y2', yr(0))
      .attr('stroke', '#0000ff').attr('stroke-width', 5).attr('stroke-dasharray', '23 10');

    // ticks
    const ticks = svg.append('g').attr('stroke', AX).attr('stroke-width', 4);
    const tick = (x1: number, y1: number, x2: number, y2: number) =>
      ticks.append('line').attr('x1', x1).attr('y1', y1).attr('x2', x2).attr('y2', y2);

    const xTickSet = [
      ...xMajorTicks.map(v => [v, 22]),
      ...xMinorTicks.map(v => [v, 15]),
    ];
    xTickSet.forEach(([v, len]) => {
      const px = x(v);
      tick(px, T, px, T + len);
      tick(px, MB, px, MB - len);
      tick(px, MB, px, MB + len);
      tick(px, RB, px, RB - len);
    });

    const yMinor = y.ticks().filter(v => {
      const lg = Math.log10(v);
      return Math.abs(lg - Math.round(lg)) > 1e-6;
    });
    yMajorTicks.forEach(v => {
      tick(L, y(v), L + 24, y(v));
      tick(R, y(v), R - 24, y(v));
    });
    yMinor.forEach(v => {
      tick(L, y(v), L + 15, y(v));
      tick(R, y(v), R - 15, y(v));
    });
    residTicks.forEach(v => {
      tick(L, yr(v), L + 24, yr(v));
      tick(R, yr(v), R - 24, yr(v));
    });

    // frames
    svg.append('rect').attr('x', L).attr('y', T).attr('width', R - L).attr('height', MB - T)
      .attr('fill', 'none').attr('stroke', AX).attr('stroke-width', 4);
    svg.append('rect').attr('x', L).attr('y', MB).attr('width', R - L).attr('height', RB - MB)
      .attr('fill', 'none').attr('stroke', AX).attr('stroke-width', 4);

    const txt = svg.append('g').attr('font-family', FONT).attr('fill', AX);

    // y tick labels
    yMajorTicks.forEach((v, i) => {
      const [base, sup] = yMajorLabels[i];
      const t = txt.append('text').attr('x', 263).attr('y', y(v) + 22)
        .attr('text-anchor', 'end').attr('font-size', 58);
      t.append('tspan').text(base);
      if (sup) t.append('tspan').attr('dy', -27).attr('font-size', 40).text(sup);
    });
    residTicks.forEach((v, i) => {
      txt.append('text').attr('x', 263).attr('y', yr(v) + 21)
        .attr('text-anchor', 'end').attr('font-size', 58).text(residLabels[i]);
    });
    xMajorTicks.forEach((v, i) => {
      txt.append('text').attr('x', x(v)).attr('y', 1833)
        .attr('text-anchor', 'middle').attr('font-size', 58).text(xMajorLabels[i]);
    });

    // titles
    txt.append('text').attr('x', (L + R) / 2).attr('y', 74)
      .attr('text-anchor', 'middle').attr('font-size', 65).text('NQ Gem');
    txt.append('text').attr('x', (L + R) / 2).attr('y', 1908)
      .attr('text-anchor', 'middle').attr('font-size', 57).text('Energy (keV)');

    const yl = txt.append('text').attr('transform', 'translate(68,633) rotate(-90)')
      .attr('text-anchor', 'middle').attr('font-size', 58);
    yl.append('tspan').text('normalized counts s');
    yl.append('tspan').attr('dy', -22).attr('font-size', 41).text('−1');
    yl.append('tspan').attr('dy', 22).text(' keV');
    yl.append('tspan').attr('dy', -22).attr('font-size', 41).text('−1');

    txt.append('text').attr('transform', 'translate(72,1574) rotate(-90)')
      .attr('text-anchor', 'middle').attr('font-size', 56).text('(data-model/error)');

    txt.append('text').attr('x', 2457).attr('y', 207)
      .attr('text-anchor', 'middle').attr('font-size', 47).attr('fill', '#111').text('(d)');

    // legend
    const rows = [1236, 1303, 1371];
    legendLabels.forEach((lab, i) => {
      const g = svg.append('g').attr('transform', `translate(1937,${rows[i]})`);
      g.append('line').attr('x1', 0).attr('x2', 0).attr('y1', -22).attr('y2', 22)
        .attr('stroke', seriesColors[i]).attr('stroke-width', 5.5);
      g.append('line').attr('x1', -23).attr('x2', 23).attr('y1', 0).attr('y2', 0)
        .attr('stroke', seriesColors[i]).attr('stroke-width', 5.5);
      g.append('circle').attr('r', 8.5).attr('fill', seriesColors[i]);
      txt.append('text').attr('x', 2021).attr('y', rows[i] + 16)
        .attr('font-size', 46).text(lab);
    });
  }, []);

  return (
    <div style={{ position: 'absolute', left: 0, top: 0 }}>
      <svg ref={svgRef} style={{ display: 'block' }} />
    </div>
  );
}
